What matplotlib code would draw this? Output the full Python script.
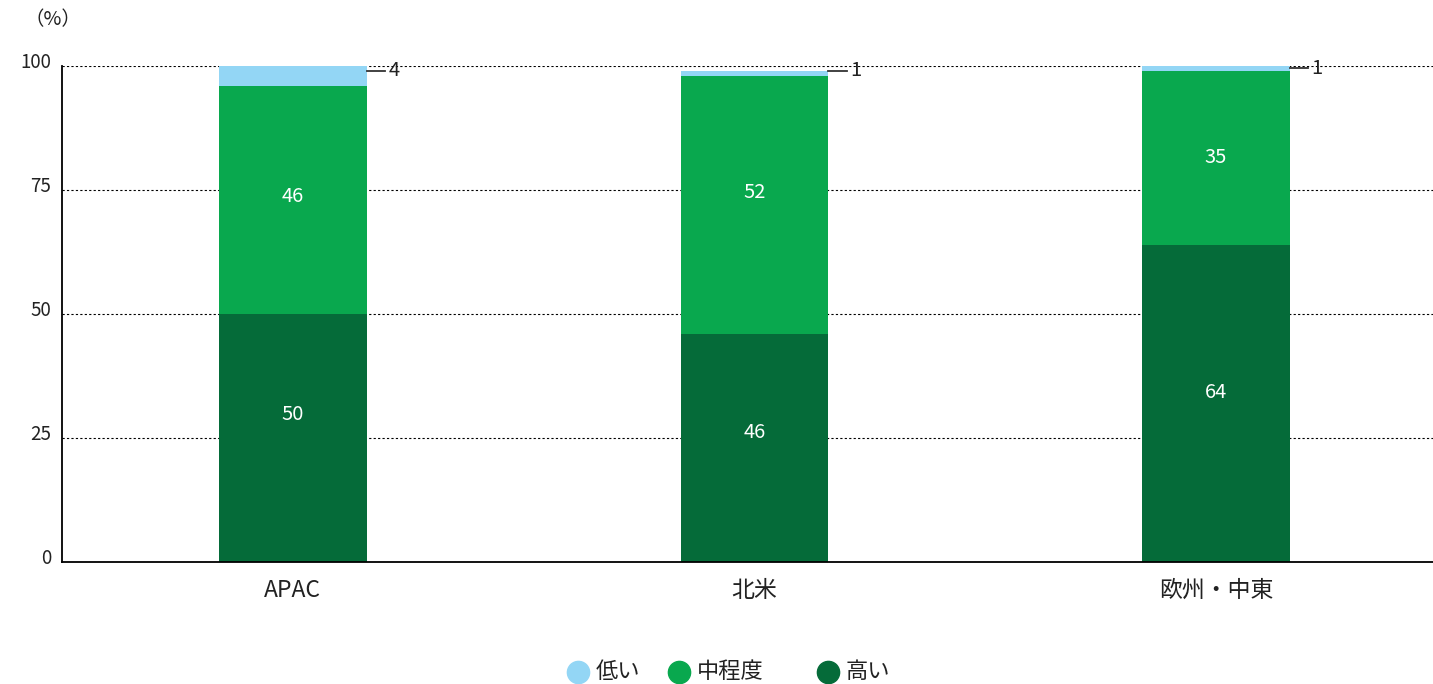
import matplotlib.pyplot as plt
from matplotlib.lines import Line2D
import matplotlib.transforms as mtransforms
import numpy as np

plt.rcParams['font.family'] = ['Noto Sans CJK JP', 'DejaVu Sans']

regions = ['APAC', '北米', '欧州・中東']
high = [50, 46, 64]
medium = [46, 52, 35]
low = [4, 1, 1]
series_names = ['低い', '中程度', '高い']
colors = {'high': '#056B39', 'medium': '#09A84E', 'low': '#93D6F5'}

# label nudges above segment centre, in pixels
high_nudge = [23, 15, 11]
medium_nudge = [3, 12, 0]

fig = plt.figure(figsize=(14.33, 6.84), dpi=100)
ax = fig.add_axes([62 / 1433, 122 / 684, (1433 - 62) / 1433, (562 - 66) / 684])

x = np.arange(len(regions))
w = 0.32
high = np.array(high)
medium = np.array(medium)
low = np.array(low)

ax.bar(x, high, w, color=colors['high'], zorder=3)
ax.bar(x, medium, w, bottom=high, color=colors['medium'], zorder=3)
ax.bar(x, low, w, bottom=high + medium, color=colors['low'], zorder=3)

for i in range(len(regions)):
    ax.annotate(str(high[i]), (x[i], high[i] / 2), xytext=(0, high_nudge[i] * 0.72),
                textcoords='offset points', color='white', ha='center', va='center',
                fontsize=14.5, zorder=4)
    ax.annotate(str(medium[i]), (x[i], high[i] + medium[i] / 2), xytext=(0, medium_nudge[i] * 0.72),
                textcoords='offset points', color='white', ha='center', va='center',
                fontsize=14.5, zorder=4)
    # small segment: short leader line out to the right
    ymid = high[i] + medium[i] + low[i] / 2
    ytxt = max(ymid, 99)
    x0 = x[i] + w / 2
    ax.plot([x0, x0 + 0.04], [ytxt, ytxt], color='#333333', lw=1.3, zorder=4, clip_on=False)
    ax.text(x0 + 0.047, ytxt, str(low[i]), ha='left', va='center', fontsize=14.5, color='#222222')

ax.set_xlim(-0.5, 2.47)
ax.set_ylim(0, 100)
ax.set_yticks([0, 25, 50, 75, 100])
ax.set_xticks(x)
ax.set_xticklabels(regions, fontsize=16.5, color='#222222')
ax.tick_params(axis='y', length=0, labelsize=13.5, labelcolor='#222222', pad=8)
ax.tick_params(axis='x', length=0, pad=12)
shift = mtransforms.ScaledTranslation(0, 6 / 100, fig.dpi_scale_trans)
for lab in ax.get_yticklabels():
    lab.set_transform(lab.get_transform() + shift)
ax.grid(axis='y', color='black', linestyle=(0, (2, 2)), linewidth=0.8, zorder=1)
for s in ['top', 'right']:
    ax.spines[s].set_visible(False)
ax.spines['left'].set_linewidth(1.3)
ax.spines['bottom'].set_linewidth(1.3)
ax.spines['bottom'].set_zorder(5)

fig.text(25 / 1433, 1 - 20 / 684, '（%）', fontsize=14, ha='left', va='center', color='#222222')

# legend row
legend_items = [(578, series_names[0], colors['low']),
                (679, series_names[1], colors['medium']),
                (828, series_names[2], colors['high'])]
ly = 1 - 672 / 684
for px, name, c in legend_items:
    fig.add_artist(Line2D([px / 1433], [ly], marker='o', markersize=16, color=c,
                          transform=fig.transFigure, linestyle='none'))
    fig.text((px + 18) / 1433, ly, name, fontsize=16, ha='left', va='center', color='#222222')

fig.savefig('out.png', dpi=100)
